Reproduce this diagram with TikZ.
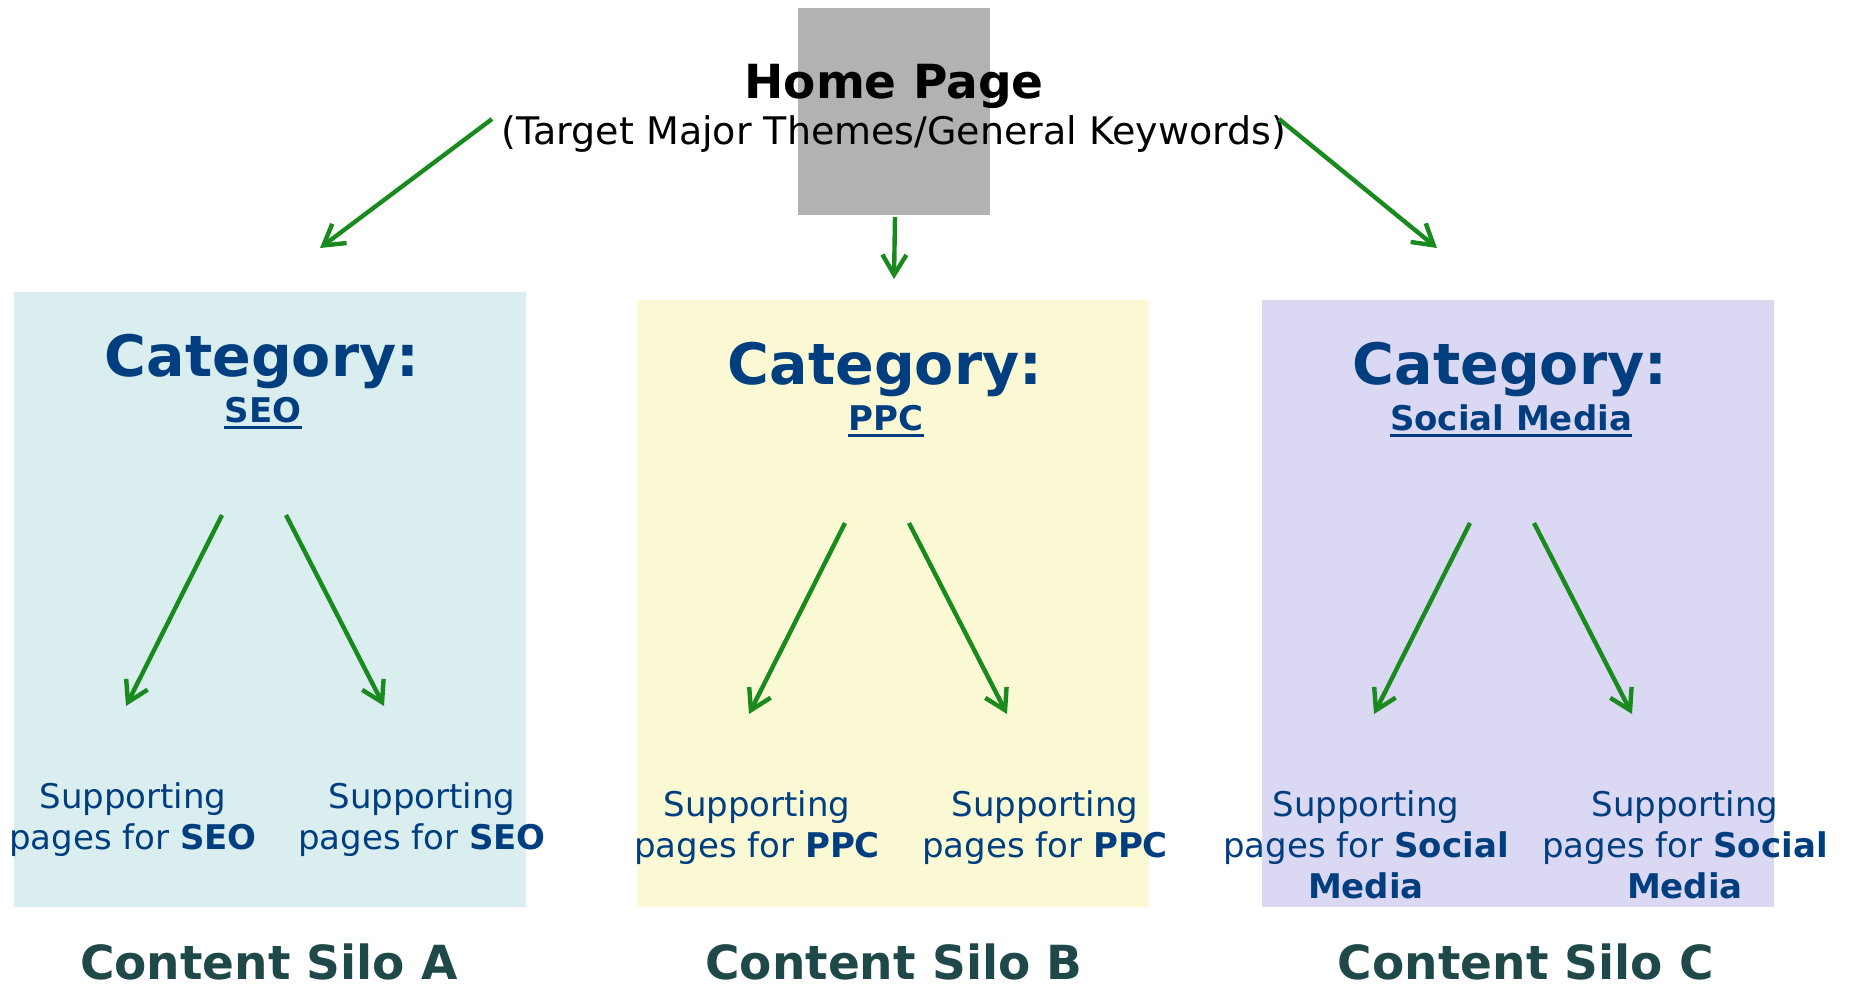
\documentclass[tikz,border=0pt]{standalone}
\usepackage{fontspec}
\setmainfont{DejaVu Sans}
\usetikzlibrary{arrows.meta}

\definecolor{arrowgreen}{RGB}{24,138,30}
\definecolor{catblue}{RGB}{0,62,128}
\definecolor{silotext}{RGB}{31,72,72}
\definecolor{siloA}{RGB}{218,237,239}
\definecolor{siloB}{RGB}{250,249,212}
\definecolor{siloC}{RGB}{219,216,243}

\tikzset{
  link/.style={arrowgreen, line width=4.4pt, -{Straight Barb[length=20pt,width=24pt]}},
  cattitle/.style={catblue, font=\fontsize{57}{68}\selectfont\bfseries, anchor=base, inner sep=0pt},
  catkey/.style={catblue, font=\fontsize{34}{41}\selectfont\bfseries, anchor=base, inner sep=0pt},
  support/.style={catblue, font=\fontsize{34}{41}\selectfont, align=center, anchor=base, inner sep=0pt},
  silolabel/.style={silotext, font=\fontsize{47}{56}\selectfont\bfseries, anchor=base, inner sep=0pt},
}

\begin{document}
\begin{tikzpicture}[x=1pt, y=-1pt]
    \useasboundingbox (0,0) rectangle (1852,986);
    \fill[gray!60] (798,8) rectangle (990,215);
    \node[font=\fontsize{47}{56}\selectfont\bfseries, anchor=base, inner sep=0pt] (home) at (894,98) {Home Page};
    \node[font=\fontsize{38}{45}\selectfont, anchor=base, inner sep=0pt] (homenote) at (894,144) {(Target Major Themes/General Keywords)};
    \coordinate (homeL) at (492,119);
    \coordinate (homeM) at (895,217);
    \coordinate (homeR) at (1279,119);
    \coordinate (siloinA) at (320,248);
    \coordinate (siloinB) at (894,279);
    \coordinate (siloinC) at (1437,248);
    \draw[link] (homeL) -- (siloinA);
    \draw[link] (homeM) -- (siloinB);
    \draw[link] (homeR) -- (siloinC);
    % base of a support node is the baseline of its last line
    \foreach \s/\cx/\ty/\lx/\rx/\lbx/\sy/\kw/\keyb in {
        A/270/292/-137/152/-1/557/SEO/{\textbf{SEO}},
        B/893/300/-136/152/1/557/PPC/{\textbf{PPC}},
        C/1518/300/-152/167/8/598/Social Media/{\textbf{Social}\\\textbf{Media}}} {
        \fill[silo\s] (\cx-256,\ty) rectangle (\cx+256,907);
        \node[cattitle] (cat\s) at (\cx-8,\ty+84) {Category:};
        \node[catkey] (key\s) at (\cx-7,\ty+130) {\kw};
        \draw[catblue, line width=3pt] ([yshift=-5pt]key\s.base west) -- ([yshift=-5pt]key\s.base east);
        \node[support] (left\s) at (\cx+\lx,\ty+\sy) {Supporting\\pages for \keyb};
        \node[support] (right\s) at (\cx+\rx,\ty+\sy) {Supporting\\pages for \keyb};
        \coordinate (forkL\s) at (\cx-48,\ty+223);
        \coordinate (forkR\s) at (\cx+16,\ty+223);
        \coordinate (tipL\s) at (\cx-144,\ty+414);
        \coordinate (tipR\s) at (\cx+114,\ty+414);
        \draw[link] (forkL\s) -- (tipL\s);
        \draw[link] (forkR\s) -- (tipR\s);
        \node[silolabel] (silo\s) at (\cx+\lbx,979) {Content Silo \s};
    }
\end{tikzpicture}
\end{document}
